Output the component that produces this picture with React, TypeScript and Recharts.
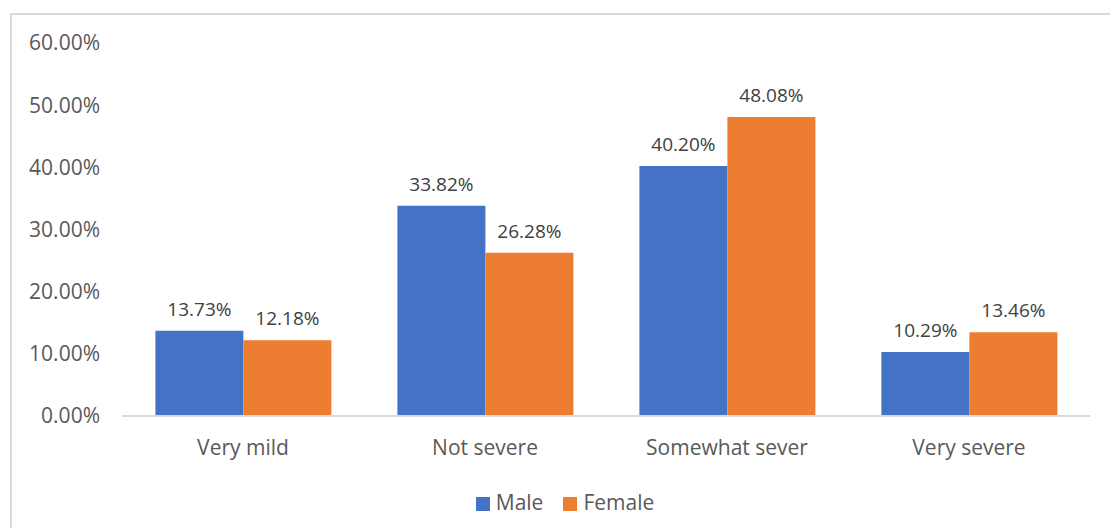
import React from 'react';
import { BarChart, Bar, XAxis, YAxis, Legend, LabelList } from 'recharts';

const categories = ['Very mild', 'Not severe', 'Somewhat sever', 'Very severe'];
const maleValues = [13.73, 33.82, 40.2, 10.29];
const femaleValues = [12.18, 26.28, 48.08, 13.46];
const yTicks = [0, 10, 20, 30, 40, 50, 60];
const seriesOrder = ['Male', 'Female'];

const data = categories.map((name, i) => ({
  name,
  Male: maleValues[i],
  Female: femaleValues[i],
}));

const FONT = '"Open Sans", "Noto Sans", sans-serif';
const pct = (v: number) => `${Number(v).toFixed(2)}%`;

export default function App() {
  return (
    <div
      style={{
        position: 'fixed',
        left: 0,
        top: 0,
        width: 1110,
        height: 528,
        overflow: 'hidden',
        background: '#fff',
        fontFamily: FONT,
      }}
    >
      <div
        style={{
          position: 'absolute',
          left: 10,
          top: 13,
          width: 1200,
          height: 600,
          border: '2px solid #d9d9d9',
        }}
      />
      <div style={{ position: 'absolute', left: 0, top: 0 }}>
        <BarChart
          width={1110}
          height={528}
          data={data}
          margin={{ top: 43, right: 20, bottom: 24, left: 0 }}
          barCategoryGap="13.8%"
          barGap={0}
        >
          <XAxis
            dataKey="name"
            height={60}
            tickLine={false}
            tickSize={0}
            tickMargin={24}
            axisLine={{ stroke: '#d9d9d9', strokeWidth: 2 }}
            tick={{ fill: '#595959', fontSize: 21, fontFamily: FONT }}
          />
          <YAxis
            width={122}
            domain={[0, 60]}
            ticks={yTicks}
            axisLine={false}
            tickLine={false}
            tickSize={0}
            tickMargin={22}
            tickFormatter={pct}
            tick={{ fill: '#595959', fontSize: 21, fontFamily: FONT }}
          />
          <Legend
            verticalAlign="bottom"
            iconType="square"
            iconSize={14}
            itemSorter={(item: any) => seriesOrder.indexOf(item.dataKey)}
            wrapperStyle={{ top: 488, left: 30, fontSize: 21, color: '#595959', fontFamily: FONT }}
            formatter={(value: string) => (
              <span style={{ color: '#595959', marginLeft: 2, marginRight: 10 }}>{value}</span>
            )}
          />
          <Bar dataKey="Male" fill="#4472C4" isAnimationActive={false}>
            <LabelList
              dataKey="Male"
              position="top"
              offset={15}
              formatter={pct}
              style={{ fill: '#404040', fontSize: 19, fontFamily: FONT }}
            />
          </Bar>
          <Bar dataKey="Female" fill="#ED7D31" isAnimationActive={false}>
            <LabelList
              dataKey="Female"
              position="top"
              offset={15}
              formatter={pct}
              style={{ fill: '#404040', fontSize: 19, fontFamily: FONT }}
            />
          </Bar>
        </BarChart>
      </div>
    </div>
  );
}
